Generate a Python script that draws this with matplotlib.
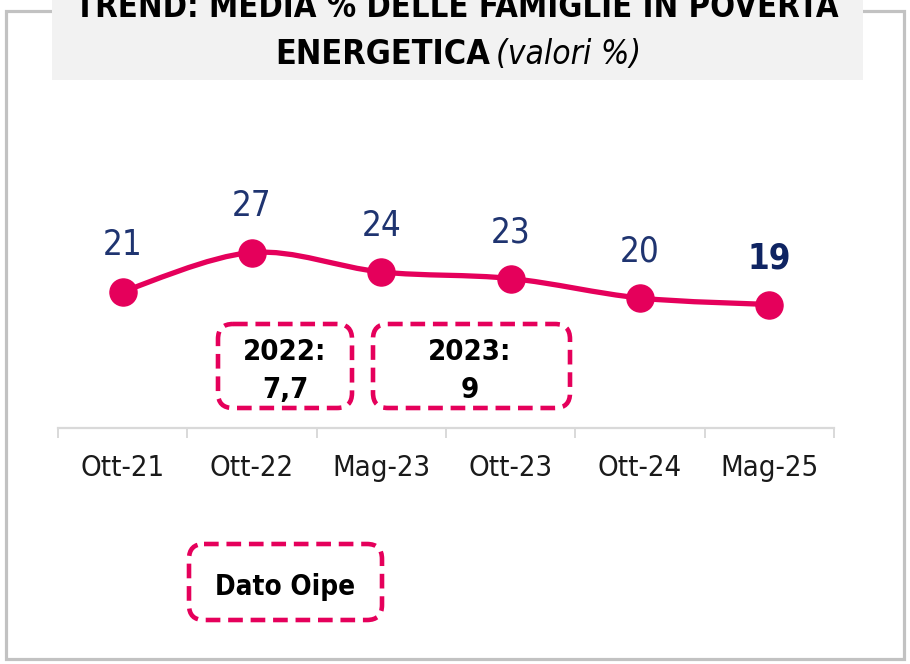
import matplotlib
matplotlib.use('Agg')
import matplotlib.pyplot as plt
from matplotlib.path import Path
from matplotlib.patches import PathPatch, FancyBboxPatch, Rectangle
import numpy as np

# --- Dati ---
periodi = ["Ott-21", "Ott-22", "Mag-23", "Ott-23", "Ott-24", "Mag-25"]
valori = [21, 27, 24, 23, 20, 19]
box_annuali = ["2022:\n7,7", "2023:\n9"]
nota = "Dato Oipe"
titolo_1 = "TREND: MEDIA % DELLE FAMIGLIE IN POVERTÀ"
titolo_2 = "ENERGETICA"
titolo_3 = "(valori %)"

ROSA = "#e5005b"
BLU = "#1f3470"
BLU_SCURO = "#0f2462"
GRIGIO = "#c2c2c2"

plt.rcParams['font.family'] = ['DejaVu Sans']
plt.rcParams['font.stretch'] = 'condensed'

W, H = 910, 664
fig = plt.figure(figsize=(W / 100, H / 100), dpi=100)

# overlay in pixel (1 unità = 1 px)
bg = fig.add_axes([0, 0, 1, 1])
bg.set_xlim(0, W)
bg.set_ylim(H, 0)
bg.axis('off')

# cornice grigia
bg.add_patch(Rectangle((6, 11), 898, 648, fill=False, ec=GRIGIO, lw=2.3))
# riquadro titolo
bg.add_patch(Rectangle((52, -5), 811, 85, fc="#f2f2f2", ec="none"))
bg.text(457, 17, titolo_1, ha='center', va='baseline', fontsize=23.5,
        fontweight='bold', color='black')
bg.text(490, 64, titolo_2, ha='right', va='baseline', fontsize=24.5,
        fontweight='bold', color='black')
bg.text(496, 64, titolo_3, ha='left', va='baseline', fontsize=24,
        style='italic', color='black')

# --- Grafico ---
ax = fig.add_axes([58 / W, (H - 428) / H, 776 / W, 260 / H])
ax.patch.set_visible(False)
x = np.arange(len(valori))
y = np.array(valori, dtype=float)

# linea smussata (bezier catmull-rom sui punti)
pts = np.column_stack([x, y])
ext = np.vstack([pts[0], pts, pts[-1]])
verts = [tuple(pts[0])]
codes = [Path.MOVETO]
for i in range(len(pts) - 1):
    p0, p1, p2, p3 = ext[i], ext[i + 1], ext[i + 2], ext[i + 3]
    c1 = p1 + (p2 - p0) / 6
    c2 = p2 - (p3 - p1) / 6
    verts += [tuple(c1), tuple(c2), tuple(p2)]
    codes += [Path.CURVE4] * 3
ax.add_patch(PathPatch(Path(verts, codes), fc='none', ec=ROSA, lw=3.8,
                       capstyle='round', zorder=2))
ax.plot(x, y, 'o', color=ROSA, markersize=19.5, zorder=3)

for i, v in enumerate(valori):
    ultimo = i == len(valori) - 1
    ax.annotate(str(v), (x[i], y[i]), xytext=(0, 21), textcoords='offset points',
                ha='center', va='bottom', fontsize=25,
                fontweight='bold' if ultimo else 'normal',
                color=BLU_SCURO if ultimo else BLU)

ax.set_xlim(-0.5, len(valori) - 0.5)
ax.set_ylim(0, 40)
for s in ['top', 'left', 'right']:
    ax.spines[s].set_visible(False)
ax.spines['bottom'].set_color("#d9d9d9")
ax.spines['bottom'].set_linewidth(1.6)
ax.set_yticks([])
ax.set_xticks(x)
ax.set_xticklabels(periodi, fontsize=21, color="#1a1a1a")
ax.tick_params(axis='x', which='major', length=0, pad=19)
ax.set_xticks(np.arange(-0.5, len(valori)), minor=True)
ax.tick_params(axis='x', which='minor', length=7, width=1.4, color="#d9d9d9")

# --- riquadri tratteggiati ---
def riquadro(x0, y0, w, h, testo, dim, cx=None):
    bg.add_patch(FancyBboxPatch((x0, y0), w, h,
                                boxstyle="round,pad=0,rounding_size=15",
                                fill=False, ec=ROSA, lw=3.3,
                                linestyle=(0, (3.2, 1.7))))
    if cx is None:
        cx = x0 + w / 2
    bg.text(cx, y0 + h / 2 + 5, testo, ha='center', va='center',
            fontsize=dim, fontweight='bold', color='black', linespacing=1.45)

riquadro(218, 324, 134, 84, box_annuali[0], 21)
riquadro(373, 324, 197, 84, box_annuali[1], 21, cx=470)
riquadro(189, 544, 193, 76, nota, 20)

fig.savefig("out.png", dpi=100)
